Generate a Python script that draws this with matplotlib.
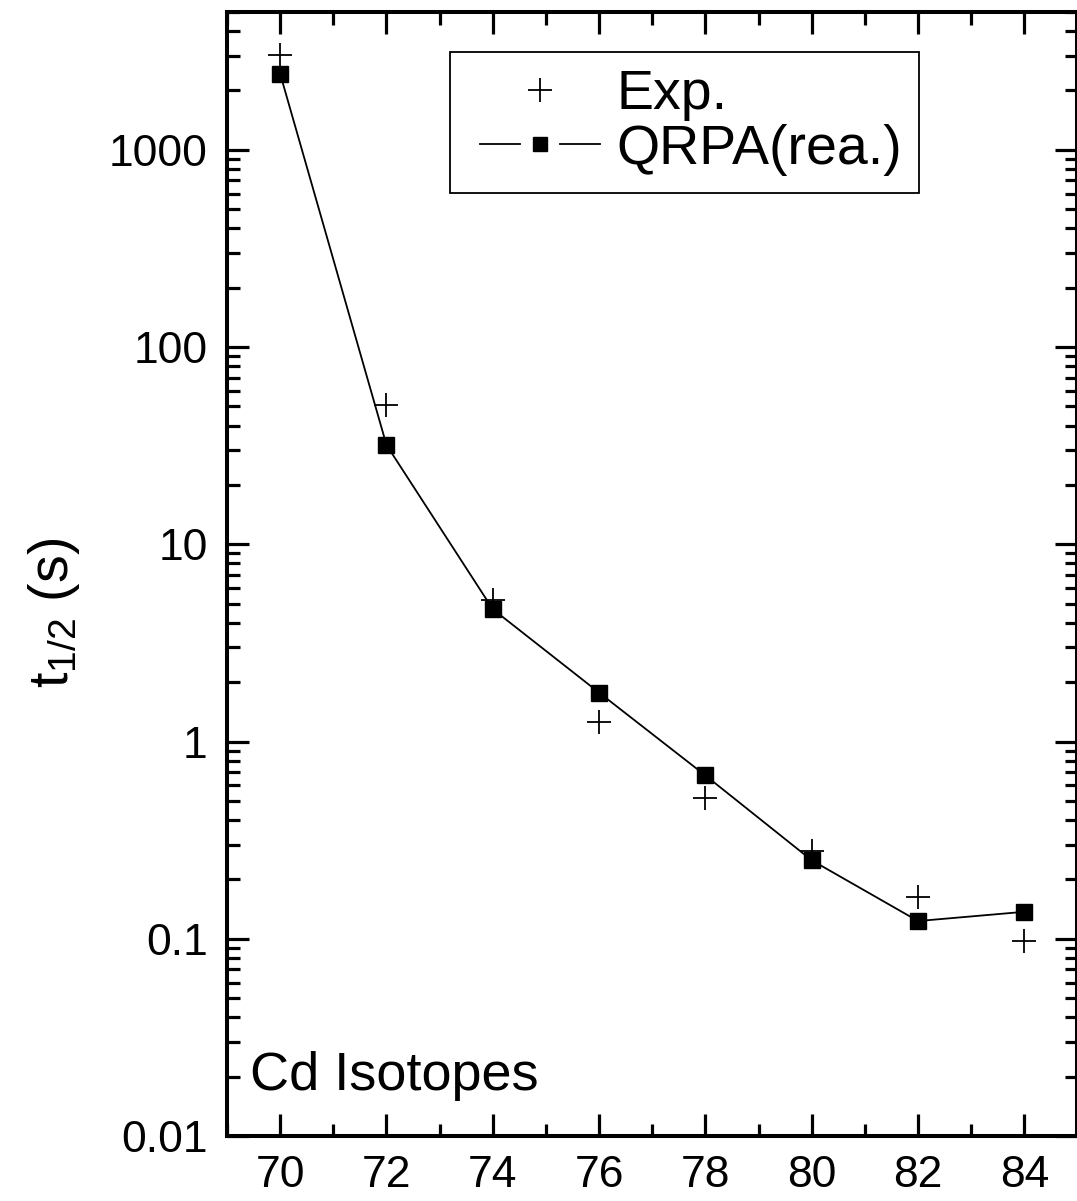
import matplotlib
matplotlib.use('Agg')
import matplotlib.pyplot as plt
from matplotlib.lines import Line2D
from matplotlib.legend_handler import HandlerBase
from matplotlib.ticker import LogLocator, FixedLocator, MultipleLocator, NullFormatter

plt.rcParams['font.family'] = ['Liberation Sans', 'DejaVu Sans']
plt.rcParams['mathtext.fontset'] = 'custom'
plt.rcParams['mathtext.rm'] = 'Liberation Sans'
plt.rcParams['mathtext.it'] = 'Liberation Sans:italic'

# ---- data ----
neutrons = [70, 72, 74, 76, 78, 80, 82, 84]
exp_t = [3018, 50.8, 5.24, 1.25, 0.515, 0.28, 0.162, 0.097]
qrpa_t = [2430, 31.9, 4.69, 1.77, 0.673, 0.25, 0.123, 0.137]
xticks = [70, 72, 74, 76, 78, 80, 82, 84]
yticks = [0.01, 0.1, 1, 10, 100, 1000]
ytick_labels = ['0.01', '0.1', '1', '10', '100', '1000']

fig = plt.figure(figsize=(10.77, 12.01), dpi=100)
ax = fig.add_axes([227/1077, 1 - 1136/1201, (1077.5 - 227)/1077, (1136 - 12)/1201])

ax.plot(neutrons, qrpa_t, color='black', lw=1.3, marker='s', ms=11,
        label='QRPA(rea.)')
ax.plot(neutrons, exp_t, ls='none', color='black', marker='+', ms=17, mew=1.3,
        label='Exp.')

ax.set_yscale('log')
ax.set_xlim(69, 85)
ax.set_ylim(0.01, 5000)

ax.xaxis.set_major_locator(FixedLocator(xticks))
ax.xaxis.set_minor_locator(MultipleLocator(1))
ax.yaxis.set_major_locator(FixedLocator(yticks))
ax.set_yticklabels(ytick_labels)
ax.yaxis.set_minor_locator(LogLocator(base=10, subs=range(2, 10), numticks=20))
ax.yaxis.set_minor_formatter(NullFormatter())

for s in ax.spines.values():
    s.set_linewidth(2.9)

ax.tick_params(which='both', direction='in', top=True, right=True)
ax.tick_params(which='major', length=16, width=2.3, labelsize=32, pad=14)
ax.tick_params(which='minor', length=9, width=2.3)

ax.set_ylabel(r'$\mathregular{t_{1/2}}$ (s)', fontsize=40)
ax.yaxis.set_label_coords(-0.17, 0.465)

ax.text(0.027, 0.041, 'Cd Isotopes', transform=ax.transAxes, fontsize=39,
        ha='left', va='baseline')


class GapLineHandler(HandlerBase):
    def create_artists(self, legend, orig_handle, xdescent, ydescent, width,
                       height, fontsize, trans):
        y = height / 2 - ydescent
        x0 = -xdescent
        l1 = Line2D([x0 + 0.10 * width, x0 + 0.40 * width], [y, y],
                    color='black', lw=1.3)
        l2 = Line2D([x0 + 0.70 * width, x0 + width], [y, y],
                    color='black', lw=1.3)
        m = Line2D([x0 + 0.55 * width], [y], ls='none', marker='s', ms=9.5,
                   color='black')
        for a in (l1, l2, m):
            a.set_transform(trans)
        return [l1, l2, m]


class PlusHandler(HandlerBase):
    def create_artists(self, legend, orig_handle, xdescent, ydescent, width,
                       height, fontsize, trans):
        y = height / 2 - ydescent
        x0 = -xdescent
        m = Line2D([x0 + 0.55 * width], [y], ls='none', marker='+', ms=17,
                   mew=1.3, color='black')
        m.set_transform(trans)
        return [m]


h_qrpa, h_exp = ax.get_lines()
leg = ax.legend([h_exp, h_qrpa], ['Exp.', 'QRPA(rea.)'],
                handler_map={h_qrpa: GapLineHandler(), h_exp: PlusHandler()},
                loc='upper left', bbox_to_anchor=(0.262, 0.964),
                fontsize=40, frameon=True, fancybox=False, framealpha=1,
                edgecolor='black', borderpad=0.3, handlelength=2.4,
                handletextpad=0.3, labelspacing=0.05, borderaxespad=0)
leg.get_frame().set_linewidth(1.3)

fig.savefig('out.png', dpi=100)
